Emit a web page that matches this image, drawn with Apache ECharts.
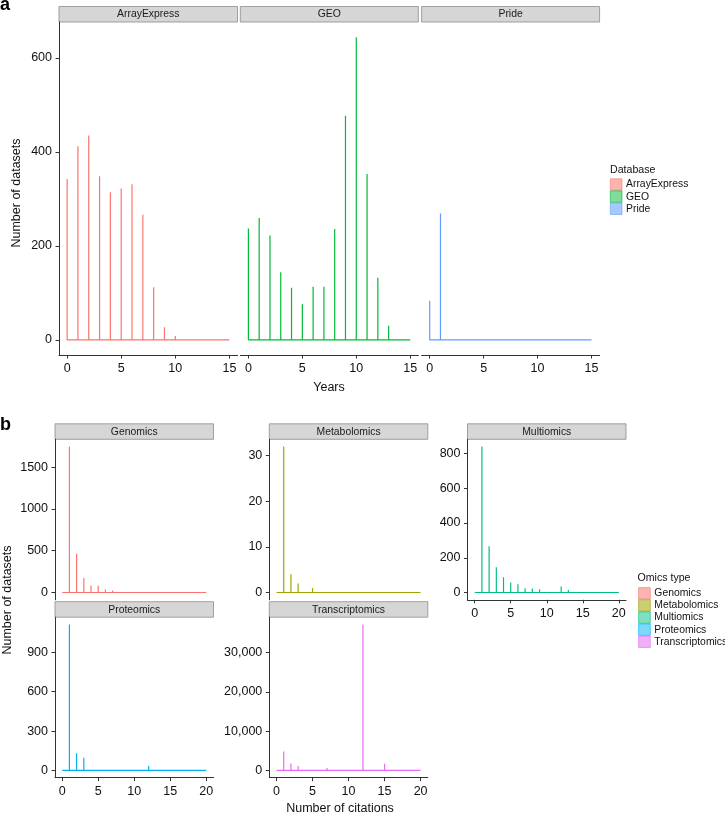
<!DOCTYPE html>
<html>
<head>
<meta charset="utf-8">
<script src="https://cdn.jsdelivr.net/npm/echarts@6/dist/echarts.min.js"></script>
<style>
html,body{margin:0;padding:0;background:#fff;}
#chart{width:725px;height:815px;}
</style>
</head>
<body>
<div id="chart"></div>
<script>
// ---------- data ----------
const years = [0,1,2,3,4,5,6,7,8,9,10,11,12,13,14,15];
const arrayExpress = [342,412,435,348,314,322,331,266,112,27,8,2,2,0,0,0];
const geo = [237,259,222,144,111,76,113,113,236,477,644,353,132,30,4,0];
const pride = [83,269,2,0,0,0,0,0,0,0,0,0,0,0,0,0];

const citations = [0,1,2,3,4,5,6,7,8,9,10,11,12,13,14,15,16,17,18,19,20];
const genomics = [0,1746,465,175,85,80,36,24,22,12,4,3,3,10,2,1,1,1,0,0,0];
const metabolomics = [0,32,4,2,0,1,0,0,0,0,0,0,0,0,0,0,0,0,0,0,0];
const multiomics = [0,840,267,146,88,58,48,25,23,19,8,8,35,15,10,8,8,8,8,8,0];
const proteomics = [0,1113,130,96,3,3,2,0,4,0,0,0,33,0,0,0,0,0,0,0,0];
const transcriptomics = [0,4830,1780,1090,500,330,200,580,100,100,100,100,37120,0,0,1680,100,100,0,0,0];

const databaseNames = ['ArrayExpress','GEO','Pride'];
const omicsNames = ['Genomics','Metabolomics','Multiomics','Proteomics','Transcriptomics'];

const xTicksA = [0,5,10,15];
const yTicksA = [0,200,400,600];
const xTicksB = [0,5,10,15,20];
const yTicksGenomics = [0,500,1000,1500];
const yTicksMetabolomics = [0,10,20,30];
const yTicksMultiomics = [0,200,400,600,800];
const yTicksProteomics = [0,300,600,900];
const yTicksTranscriptomics = [0,10000,20000,30000];

// ---------- styling ----------
const FONT = "'Liberation Sans', Arial, Helvetica, sans-serif";
const colorsA = ['#F8766D','#00BA38','#619CFF'];
const colorsB = ['#F8766D','#A3A500','#00BF7D','#00B0F6','#E76BF3'];
const fillsA = ['rgba(248,118,109,0.55)','rgba(0,186,56,0.5)','rgba(97,156,255,0.55)'];
const fillsB = ['rgba(248,118,109,0.55)','rgba(163,165,0,0.55)','rgba(0,191,125,0.5)','rgba(0,176,246,0.5)','rgba(231,107,243,0.55)'];
const AXIS = '#333';

function spikes(xs, vals){
  const d = [];
  xs.forEach((x,i)=>{
    d.push([x,0]);
    if (vals[i] > 0){ d.push([x, vals[i]]); d.push([x,0]); }
  });
  return d;
}
function plain(v){ return String(v); }
function comma(v){ return String(v).replace(/\B(?=(\d{3})+(?!\d))/g, ','); }
function expandRange(maxV){ return [-0.05*maxV, 1.05*maxV]; }

const maxA = Math.max(...arrayExpress, ...geo, ...pride);

// panel layout
const panels = [
  // panel a
  {name:'ArrayExpress', vals:arrayExpress, xs:years, color:colorsA[0], left:59, top:22, width:178.5, height:333, xr:[-0.75,15.75], yr:expandRange(maxA), xt:xTicksA, yt:yTicksA, showX:true, showY:true, yfmt:plain},
  {name:'GEO', vals:geo, xs:years, color:colorsA[1], left:240.3, top:22, width:178, height:333, xr:[-0.75,15.75], yr:expandRange(maxA), xt:xTicksA, yt:yTicksA, showX:true, showY:false, yfmt:plain},
  {name:'Pride', vals:pride, xs:years, color:colorsA[2], left:421.6, top:22, width:178, height:333, xr:[-0.75,15.75], yr:expandRange(maxA), xt:xTicksA, yt:yTicksA, showX:true, showY:false, yfmt:plain},
  // panel b
  {name:'Genomics', vals:genomics, xs:citations, color:colorsB[0], left:55, top:439.3, width:158.5, height:160.5, xr:[-1,21], yr:expandRange(Math.max(...genomics)), xt:xTicksB, yt:yTicksGenomics, showX:false, showY:true, yfmt:plain},
  {name:'Metabolomics', vals:metabolomics, xs:citations, color:colorsB[1], left:269.3, top:439.3, width:158.5, height:160.5, xr:[-1,21], yr:expandRange(Math.max(...metabolomics)), xt:xTicksB, yt:yTicksMetabolomics, showX:false, showY:true, yfmt:plain},
  {name:'Multiomics', vals:multiomics, xs:citations, color:colorsB[2], left:467.5, top:439.3, width:158.5, height:160.5, xr:[-1,21], yr:expandRange(Math.max(...multiomics)), xt:xTicksB, yt:yTicksMultiomics, showX:true, showY:true, yfmt:plain},
  {name:'Proteomics', vals:proteomics, xs:citations, color:colorsB[3], left:55, top:617.2, width:158.5, height:160.5, xr:[-1,21], yr:expandRange(Math.max(...proteomics)), xt:xTicksB, yt:yTicksProteomics, showX:true, showY:true, yfmt:plain},
  {name:'Transcriptomics', vals:transcriptomics, xs:citations, color:colorsB[4], left:269.3, top:617.2, width:158.5, height:160.5, xr:[-1,21], yr:expandRange(Math.max(...transcriptomics)), xt:xTicksB, yt:yTicksTranscriptomics, showX:true, showY:true, yfmt:comma}
];

const grids = [], xAxes = [], yAxes = [], series = [], graphics = [];
const labelStyle = {color:'#111', fontSize:12.5, fontFamily:FONT};

panels.forEach((p,i)=>{
  grids.push({left:p.left, top:p.top, width:p.width, height:p.height, containLabel:false});
  xAxes.push({
    type:'value', gridIndex:i, min:p.xr[0], max:p.xr[1],
    axisLine:{show:p.showX, onZero:false, lineStyle:{color:AXIS, width:1}},
    axisTick:{show:p.showX, length:3.5, customValues:p.xt, lineStyle:{color:AXIS, width:1}},
    axisLabel:{show:p.showX, customValues:p.xt, margin:7, ...labelStyle, formatter:v=>plain(v)},
    splitLine:{show:false}
  });
  yAxes.push({
    type:'value', gridIndex:i, min:p.yr[0], max:p.yr[1],
    axisLine:{show:p.showY, onZero:false, lineStyle:{color:AXIS, width:1}},
    axisTick:{show:p.showY, length:3.5, customValues:p.yt, lineStyle:{color:AXIS, width:1}},
    axisLabel:{show:p.showY, customValues:p.yt, margin:7, ...labelStyle, formatter:v=>p.yfmt(v)},
    splitLine:{show:false}
  });
  series.push({
    type:'line', name:p.name, xAxisIndex:i, yAxisIndex:i,
    data:spikes(p.xs, p.vals), showSymbol:false, symbol:'none',
    lineStyle:{color:p.color, width:1.2}, itemStyle:{color:p.color},
    silent:true, animation:false
  });
  // facet strip
  graphics.push({
    type:'rect', shape:{x:p.left, y:p.top-15.5, width:p.width, height:15.5},
    style:{fill:'#D6D6D6', stroke:'#8C8C8C', lineWidth:0.8}
  });
  graphics.push({
    type:'text', x:p.left + p.width/2, y:p.top-7.5,
    style:{text:p.name, fill:'#1a1a1a', font:'10.4px ' + FONT, align:'center', verticalAlign:'middle'}
  });
});

// panel letters and axis titles
graphics.push({type:'text', x:0, y:-4, style:{text:'a', fill:'#000', font:'bold 18px ' + FONT, verticalAlign:'top'}});
graphics.push({type:'text', x:0, y:416, style:{text:'b', fill:'#000', font:'bold 18px ' + FONT, verticalAlign:'top'}});
graphics.push({type:'text', x:16.5, y:193, rotation:Math.PI/2, style:{text:'Number of datasets', fill:'#111', font:'12.5px ' + FONT, align:'center', verticalAlign:'middle'}});
graphics.push({type:'text', x:8, y:600, rotation:Math.PI/2, style:{text:'Number of datasets', fill:'#111', font:'12.5px ' + FONT, align:'center', verticalAlign:'middle'}});
graphics.push({type:'text', x:329, y:388, style:{text:'Years', fill:'#111', font:'12.5px ' + FONT, align:'center', verticalAlign:'middle'}});
graphics.push({type:'text', x:340, y:809, style:{text:'Number of citations', fill:'#111', font:'12.5px ' + FONT, align:'center', verticalAlign:'middle'}});
graphics.push({type:'text', x:610, y:170, style:{text:'Database', fill:'#111', font:'10.6px ' + FONT, verticalAlign:'middle'}});
graphics.push({type:'text', x:637.5, y:578, style:{text:'Omics type', fill:'#111', font:'10.6px ' + FONT, verticalAlign:'middle'}});

const legendCommon = {
  orient:'vertical', icon:'rect', itemWidth:11.7, itemHeight:11.5, itemGap:0, padding:0,
  selectedMode:false, textStyle:{color:'#111', fontSize:10.4, fontFamily:FONT, lineHeight:11.5, padding:[0,0,0,-1]}
};

const option = {
  animation:false,
  backgroundColor:'#fff',
  grid:grids, xAxis:xAxes, yAxis:yAxes, series:series,
  legend:[
    {...legendCommon, left:610, top:178.5,
      data:databaseNames.map((n,i)=>({name:n, itemStyle:{color:fillsA[i], borderColor:colorsA[i], borderWidth:0.6}}))},
    {...legendCommon, left:638.3, top:587.3,
      data:omicsNames.map((n,i)=>({name:n, itemStyle:{color:fillsB[i], borderColor:colorsB[i], borderWidth:0.6}}))}
  ],
  graphic:graphics
};

const chart = echarts.init(document.getElementById('chart'), null, {renderer:'canvas'});
chart.setOption(option);
</script>
</body>
</html>
